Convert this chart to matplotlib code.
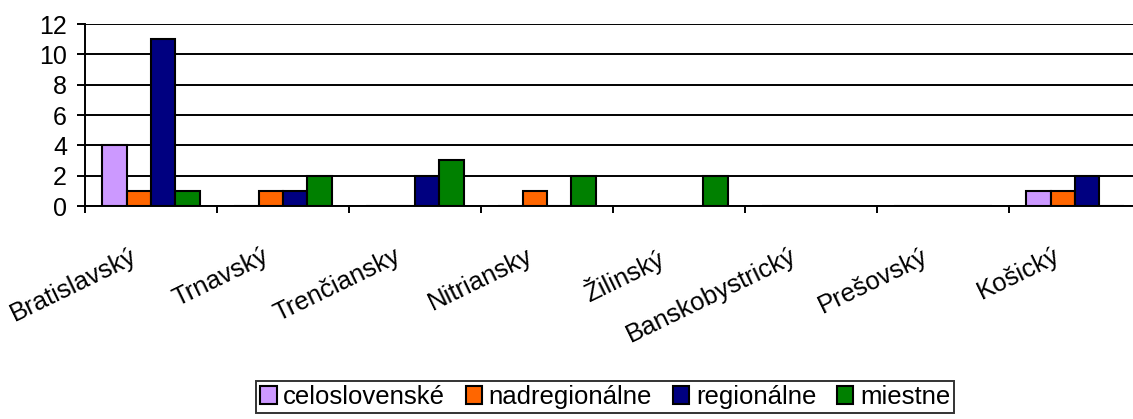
import matplotlib
matplotlib.use("Agg")
import matplotlib.pyplot as plt
import numpy as np

plt.rcParams['font.family'] = ['Liberation Sans', 'DejaVu Sans']

regions = ['Bratislavský', 'Trnavský', 'Trenčiansky', 'Nitriansky',
           'Žilinský', 'Banskobystrický', 'Prešovský', 'Košický']
series_names = ['celoslovenské', 'nadregionálne', 'regionálne', 'miestne']
celoslovenske = [4, 0, 0, 0, 0, 0, 0, 1]
nadregionalne = [1, 1, 0, 1, 0, 0, 0, 1]
regionalne = [11, 1, 2, 0, 0, 0, 0, 2]
miestne = [1, 2, 3, 2, 2, 0, 0, 0]
colors = ['#CC99FF', '#FF6600', '#000080', '#008000']


def main():
    fig = plt.figure(figsize=(11.33, 4.19), dpi=100)
    ax = fig.add_axes([85 / 1133, 1 - 206 / 419, 1056 / 1133, 182 / 419])

    x = np.arange(len(regions))
    w = 0.185
    all_series = [celoslovenske, nadregionalne, regionalne, miestne]
    for k, (vals, name, col) in enumerate(zip(all_series, series_names, colors)):
        ax.bar(x + (k - 1.5) * w, vals, width=w, color=col, edgecolor='black',
               linewidth=1.5, label=name, zorder=3)

    ax.set_xlim(-0.5, 7.5)
    ax.set_ylim(0, 12)
    ax.set_yticks(range(0, 13, 2))
    ax.yaxis.grid(True, color='black', linewidth=1.4)
    ax.set_axisbelow(True)

    # ticks on category boundaries, labels placed by hand
    ax.set_xticks(np.arange(-0.5, 8, 1))
    ax.set_xticklabels([])
    ax.tick_params(axis='x', direction='out', length=5, width=1.4)
    ax.tick_params(axis='y', direction='out', length=6, width=1.4,
                   labelsize=18, pad=7)
    for side in ['top', 'right']:
        ax.spines[side].set_visible(False)
    for side in ['left', 'bottom']:
        ax.spines[side].set_linewidth(1.4)

    for i, name in enumerate(regions):
        ax.annotate(name, xy=(i, 0), xycoords='data',
                    xytext=(-11, -38), textcoords='offset pixels',
                    ha='right', va='top', rotation=26, fontsize=18.5)

    leg = fig.legend(loc='center', bbox_to_anchor=(0.534, 0.0525), ncol=4,
                     fontsize=18.5, frameon=True, fancybox=False,
                     handlelength=0.65, handleheight=0.65, handletextpad=0.25,
                     columnspacing=0.8, borderpad=0.15, borderaxespad=0)
    leg.get_frame().set_edgecolor('black')
    leg.get_frame().set_linewidth(1.4)
    for h in leg.legend_handles:
        h.set_linewidth(1.5)

    fig.savefig('out.png', dpi=100)
    plt.close(fig)


if __name__ == "__main__":
    main()
